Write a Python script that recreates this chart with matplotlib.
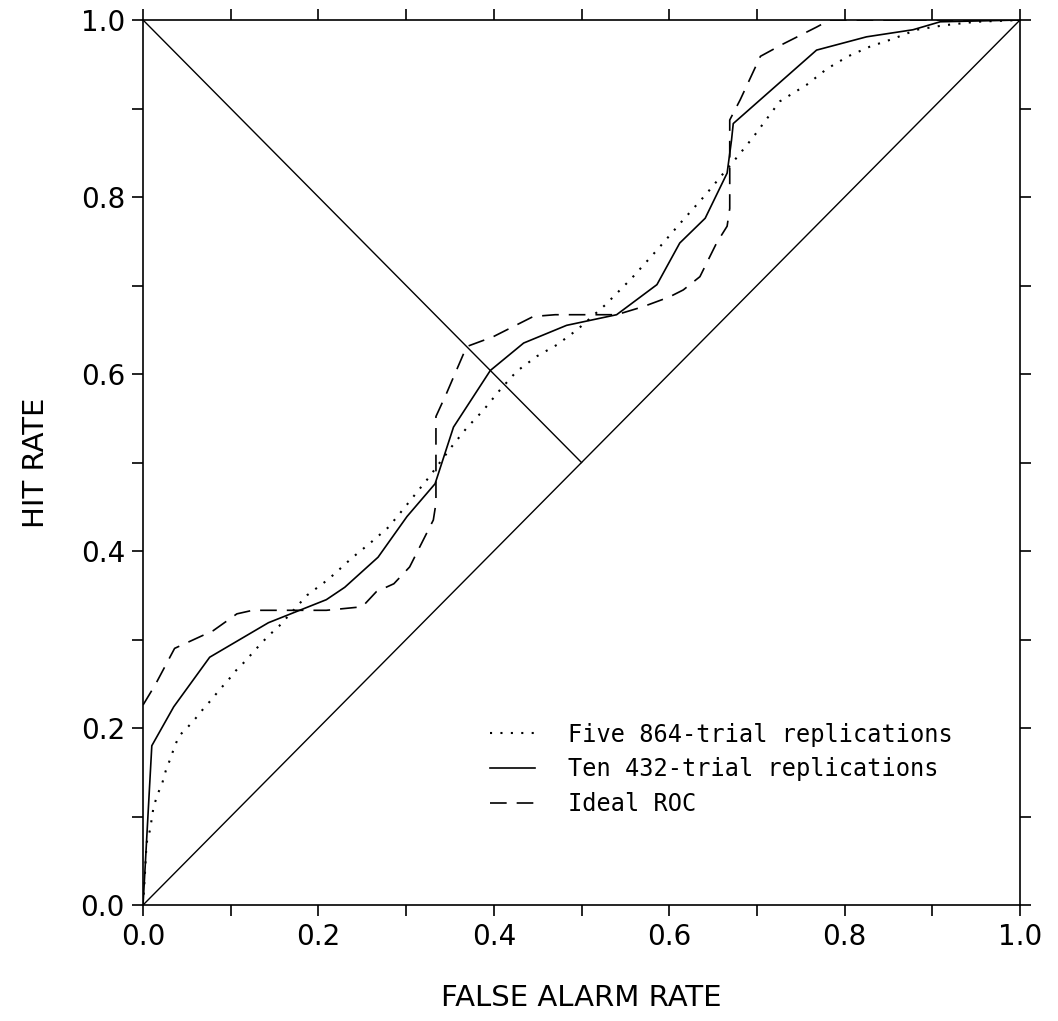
import matplotlib
matplotlib.use("Agg")
import matplotlib.pyplot as plt
from matplotlib.ticker import MultipleLocator

# Five 864-trial replications (dotted)
five_x = [0.0, 0.002, 0.004, 0.008, 0.010, 0.012, 0.017, 0.022, 0.026, 0.031, 0.036, 0.041,
          0.051, 0.060, 0.069, 0.078, 0.087, 0.097, 0.106, 0.116, 0.125, 0.135, 0.145, 0.155,
          0.187, 0.206, 0.217, 0.238, 0.259, 0.280, 0.299, 0.316, 0.325, 0.352, 0.369, 0.388,
          0.407, 0.426, 0.449, 0.472, 0.495, 0.527, 0.557, 0.586, 0.614, 0.641, 0.662, 0.679,
          0.696, 0.726, 0.757, 0.780, 0.804, 0.829, 0.856, 0.882, 0.913, 0.950, 1.0]
five_y = [0.0, 0.032, 0.070, 0.085, 0.098, 0.111, 0.126, 0.138, 0.152, 0.165, 0.179, 0.191,
          0.201, 0.211, 0.222, 0.232, 0.243, 0.254, 0.265, 0.275, 0.285, 0.296, 0.306, 0.315,
          0.350, 0.364, 0.373, 0.392, 0.409, 0.427, 0.450, 0.471, 0.482, 0.518, 0.539, 0.559,
          0.582, 0.603, 0.620, 0.633, 0.650, 0.678, 0.708, 0.740, 0.772, 0.802, 0.827, 0.847,
          0.868, 0.908, 0.927, 0.945, 0.959, 0.970, 0.979, 0.989, 0.994, 0.998, 1.0]

# Ten 432-trial replications (solid)
ten_x = [0.0, 0.010, 0.035, 0.076, 0.143, 0.209, 0.230, 0.268, 0.301, 0.333, 0.354, 0.396,
         0.434, 0.483, 0.540, 0.586, 0.612, 0.641, 0.666, 0.671, 0.673, 0.768, 0.825, 0.878,
         0.909, 1.0]
ten_y = [0.0, 0.180, 0.224, 0.280, 0.319, 0.345, 0.359, 0.393, 0.439, 0.476, 0.540, 0.604,
         0.635, 0.655, 0.667, 0.701, 0.748, 0.776, 0.827, 0.864, 0.883, 0.966, 0.981, 0.989,
         0.998, 1.0]

# Ideal ROC (dashed)
ideal_x = [0.0, 0.014, 0.036, 0.080, 0.107, 0.125, 0.209, 0.250, 0.266, 0.286, 0.304, 0.331,
           0.334, 0.334, 0.346, 0.369, 0.399, 0.445, 0.470, 0.540, 0.570, 0.600, 0.616, 0.635,
           0.654, 0.666, 0.669, 0.669, 0.681, 0.704, 0.730, 0.768, 0.783, 1.0]
ideal_y = [0.226, 0.249, 0.290, 0.310, 0.329, 0.333, 0.333, 0.337, 0.354, 0.363, 0.382, 0.435,
           0.454, 0.552, 0.578, 0.631, 0.642, 0.665, 0.667, 0.667, 0.676, 0.687, 0.695, 0.710,
           0.748, 0.767, 0.787, 0.887, 0.910, 0.959, 0.973, 0.992, 1.0, 1.0]

plt.rcParams['font.family'] = ['DejaVu Sans']

fig = plt.figure(figsize=(10.58, 10.21), dpi=100)
ax = fig.add_axes([0.1352, 0.1136, 0.8289, 0.8668])

# chance diagonal and negative diagonal
ax.plot([0, 1], [0, 1], color='black', lw=1.0)
ax.plot([0, 0.5], [1, 0.5], color='black', lw=1.0)

ax.plot(five_x, five_y, color='black', lw=1.5, linestyle=(0, (1, 4)),
        label='Five 864-trial replications')
ax.plot(ten_x, ten_y, color='black', lw=1.2, label='Ten 432-trial replications')
ax.plot(ideal_x, ideal_y, color='black', lw=1.2, linestyle=(0, (10, 6)), label='Ideal ROC')

ax.set_xlim(0, 1)
ax.set_ylim(0, 1)
ax.xaxis.set_major_locator(MultipleLocator(0.2))
ax.yaxis.set_major_locator(MultipleLocator(0.2))
ax.xaxis.set_minor_locator(MultipleLocator(0.1))
ax.yaxis.set_minor_locator(MultipleLocator(0.1))
ax.xaxis.set_major_formatter(plt.FormatStrFormatter('%.1f'))
ax.yaxis.set_major_formatter(plt.FormatStrFormatter('%.1f'))
ax.tick_params(which='both', direction='out', length=8, width=1.2,
               top=True, right=True, labelsize=20, pad=5)
for s in ax.spines.values():
    s.set_linewidth(1.2)

ax.set_xlabel('FALSE ALARM RATE', fontsize=21, labelpad=24)
ax.set_ylabel('HIT RATE', fontsize=21, labelpad=22)

leg = ax.legend(loc='upper left', bbox_to_anchor=(0.396, 0.206), frameon=False,
                prop={'family': 'DejaVu Sans Mono', 'size': 17},
                borderpad=0, borderaxespad=0,
                handlelength=1.9, handletextpad=1.4, labelspacing=0.45)

fig.savefig('out.png', dpi=100)
